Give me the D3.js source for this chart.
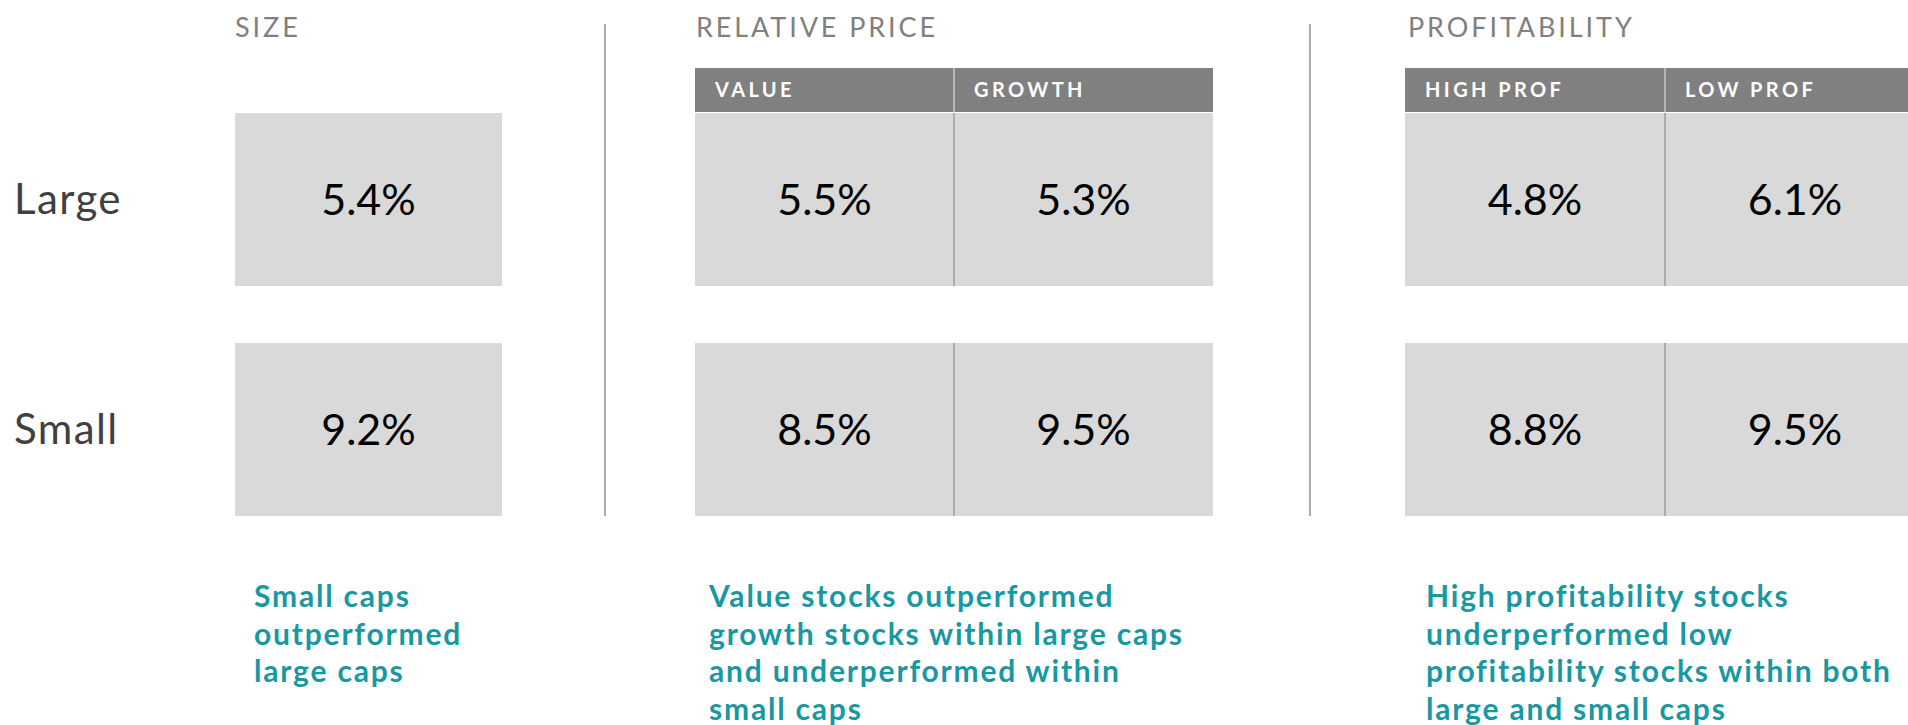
<!DOCTYPE html>
<html>
<head>
<meta charset="utf-8">
<script src="https://cdn.jsdelivr.net/npm/d3@7"></script>
<style>
  html, body { margin: 0; padding: 0; background: #fff; overflow: hidden; }
  text { font-family: Lato, "Open Sans", sans-serif; }
</style>
</head>
<body>
<script>
// data
const rows = ['Large', 'Small'];
const panelTitles = ['SIZE', 'RELATIVE PRICE', 'PROFITABILITY'];
const sizeCols = [''];
const sizeValues = [[5.4], [9.2]];
const priceCols = ['VALUE', 'GROWTH'];
const priceValues = [[5.5, 5.3], [8.5, 9.5]];
const profCols = ['HIGH PROF', 'LOW PROF'];
const profValues = [[4.8, 6.1], [8.8, 9.5]];
const sizeNote = ['Small caps', 'outperformed', 'large caps'];
const priceNote = ['Value stocks outperformed', 'growth stocks within large caps', 'and underperformed within', 'small caps'];
const profNote = ['High profitability stocks', 'underperformed low', 'profitability stocks within both', 'large and small caps'];

const width = 1908;
const height = 725;

const teal = '#1898a2';
const cellFill = '#d9d9d9';
const headFill = '#808080';
const lineColor = '#ababab';

const svg = d3.select('body').append('svg')
  .attr('width', width)
  .attr('height', height);

// shared row scale
const yScale = d3.scaleBand()
  .domain(rows)
  .range([113, 516])
  .paddingInner(0.248);

const headerTop = 68;
const headerBottom = 112;

// row labels
svg.append('g').selectAll('text').data(rows)
  .enter().append('text')
  .attr('x', 14)
  .attr('y', d => yScale(d) + yScale.bandwidth() / 2)
  .attr('dy', '0.35em')
  .attr('font-size', 42)
  .attr('letter-spacing', 1.4)
  .attr('fill', '#404040')
  .text(d => d);

const panels = [
  { title: panelTitles[0], cols: sizeCols, values: sizeValues, note: sizeNote, x0: 235, x1: 502, titleX: 235, noteX: 254, header: false },
  { title: panelTitles[1], cols: priceCols, values: priceValues, note: priceNote, x0: 695, x1: 1213, titleX: 696, noteX: 709, header: true },
  { title: panelTitles[2], cols: profCols, values: profValues, note: profNote, x0: 1405, x1: 1925, titleX: 1408, noteX: 1426, header: true }
];

panels.forEach(p => {
  const g = svg.append('g');
  const xScale = d3.scaleBand()
    .domain(p.cols)
    .range([p.x0, p.x1]);

  // panel title
  g.append('text')
    .attr('x', p.titleX)
    .attr('y', 37)
    .attr('font-size', 27)
    .attr('font-weight', 400)
    .attr('letter-spacing', 2.9)
    .attr('fill', '#808080')
    .text(p.title);

  // header bar
  if (p.header) {
    g.selectAll('.head').data(p.cols)
      .enter().append('rect')
      .attr('class', 'head')
      .attr('x', d => xScale(d))
      .attr('y', headerTop)
      .attr('width', xScale.bandwidth())
      .attr('height', headerBottom - headerTop)
      .attr('fill', headFill);
    g.selectAll('.headText').data(p.cols)
      .enter().append('text')
      .attr('class', 'headText')
      .attr('x', d => xScale(d) + 20)
      .attr('y', (headerTop + headerBottom) / 2)
      .attr('dy', '0.36em')
      .attr('font-size', 20)
      .attr('font-weight', 700)
      .attr('letter-spacing', 3.4)
      .attr('fill', '#fff')
      .text(d => d);
  }

  // cells
  const cells = [];
  p.values.forEach((vals, i) => {
    vals.forEach((v, j) => cells.push({ row: rows[i], col: p.cols[j], v: v }));
  });

  g.selectAll('.cell').data(cells)
    .enter().append('rect')
    .attr('class', 'cell')
    .attr('x', d => xScale(d.col))
    .attr('y', d => yScale(d.row))
    .attr('width', xScale.bandwidth())
    .attr('height', yScale.bandwidth())
    .attr('fill', cellFill);

  g.selectAll('.val').data(cells)
    .enter().append('text')
    .attr('class', 'val')
    .attr('x', d => xScale(d.col) + xScale.bandwidth() / 2)
    .attr('y', d => yScale(d.row) + yScale.bandwidth() / 2)
    .attr('dy', '0.35em')
    .attr('text-anchor', 'middle')
    .attr('font-size', 43)
    .attr('fill', '#000')
    .text(d => d.v.toFixed(1) + '%');

  // column separators
  if (p.cols.length > 1) {
    const sepX = xScale(p.cols[1]);
    g.append('line')
      .attr('x1', sepX).attr('x2', sepX)
      .attr('y1', headerTop).attr('y2', headerBottom)
      .attr('stroke', '#b5b5b5')
      .attr('stroke-width', 2);
    rows.forEach(r => {
      g.append('line')
        .attr('x1', sepX).attr('x2', sepX)
        .attr('y1', yScale(r)).attr('y2', yScale(r) + yScale.bandwidth())
        .attr('stroke', lineColor)
        .attr('stroke-width', 2);
    });
  }

  // note below
  g.append('text')
    .attr('x', p.noteX)
    .attr('y', 607)
    .attr('font-size', 30)
    .attr('font-weight', 700)
    .attr('letter-spacing', 1.8)
    .attr('fill', teal)
    .selectAll('tspan').data(p.note)
    .enter().append('tspan')
    .attr('x', p.noteX)
    .attr('dy', (d, i) => i === 0 ? 0 : 37.7)
    .text(d => d);
});

// vertical dividers between panels
svg.selectAll('.divider').data([605, 1310])
  .enter().append('line')
  .attr('class', 'divider')
  .attr('x1', d => d).attr('x2', d => d)
  .attr('y1', 24).attr('y2', 516)
  .attr('stroke', lineColor)
  .attr('stroke-width', 2);
</script>
</body>
</html>
